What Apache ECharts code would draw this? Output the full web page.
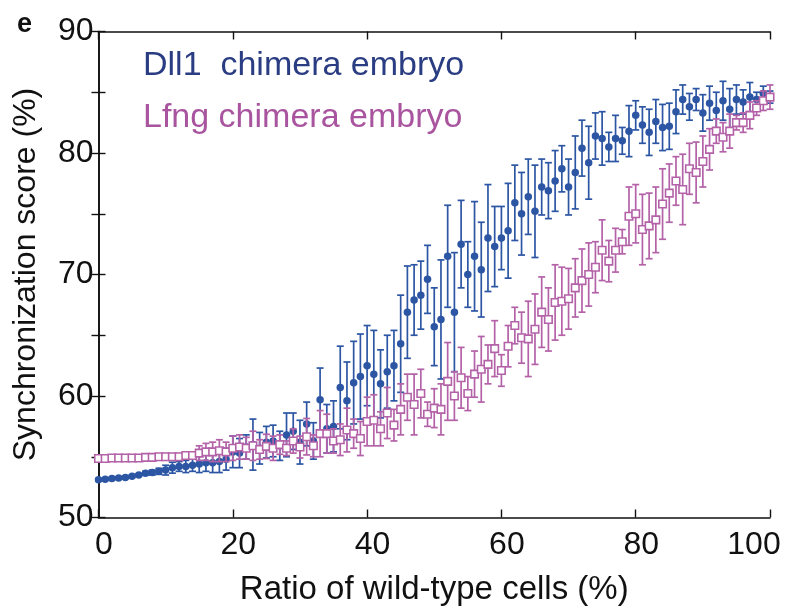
<!DOCTYPE html>
<html>
<head>
<meta charset="utf-8">
<script src="https://cdn.jsdelivr.net/npm/echarts@6/dist/echarts.min.js"></script>
<style>
  html, body { margin: 0; background: #fff; }
  #chart { width: 786px; height: 614px; }
</style>
</head>
<body>
<div id="chart"></div>
<script>
// ratio of wild-type cells (%)
const ratio = [0,1,2,3,4,5,6,7,8,9,10,11,12,13,14,15,16,17,18,19,20,
  21,22,23,24,25,26,27,28,29,30,31,32,33,34,35,36,37,38,39,40,
  41,42,43,44,45,46,47,48,49,50,51,52,53,54,55,56,57,58,59,60,
  61,62,63,64,65,66,67,68,69,70,71,72,73,74,75,76,77,78,79,80,
  81,82,83,84,85,86,87,88,89,90,91,92,93,94,95,96,97,98,99,100];

// Dll1 chimera embryo: mean and error
const dll1Mean = [53.1,53.15,53.2,53.25,53.3,53.4,53.5,53.65,53.7,53.8,53.9,54.1,54.2,54.2,54.3,54.4,54.5,54.5,54.6,54.8,55.4,
  55.3,55.8,56.0,55.7,56.2,56.3,55.9,56.8,57.1,56.2,57.7,56.3,59.7,57.3,57.5,60.7,59.6,61.1,61.6,62.5,
  61.8,61.0,62.0,62.5,64.3,66.9,67.9,68.3,69.6,65.7,66.3,71.5,66.9,72.5,70.0,71.5,70.4,73.0,72.3,73.0,
  73.6,75.9,75.0,76.4,75.2,77.2,76.9,77.7,78.7,77.2,78.4,80.4,79.2,81.4,81.2,80.5,81.2,81.0,81.8,83.1,
  82.3,81.7,82.6,82.1,82.2,83.4,84.4,83.8,84.4,83.3,84.1,83.5,84.3,83.6,84.4,84.2,84.6,84.4,84.9,84.6];
const dll1Err = [0.1,0.1,0.1,0.1,0.1,0.1,0.1,0.15,0.2,0.25,0.4,0.45,0.4,0.5,0.5,0.7,0.7,0.8,0.9,0.9,1.3,
  1.2,1.0,2.1,1.3,1.3,1.3,1.2,1.8,1.5,1.8,1.8,1.5,2.6,2.0,2.1,3.4,3.2,3.4,3.5,3.3,
  3.6,2.8,3.0,2.9,4.0,3.8,2.9,2.8,2.8,3.2,4.9,4.2,4.9,3.6,2.7,4.5,3.9,4.4,3.3,2.6,
  3.9,3.1,3.4,3.1,3.8,2.3,2.3,2.5,1.9,2.3,3.0,2.3,3.0,1.9,2.2,1.2,1.9,1.1,2.1,1.2,
  1.5,1.9,1.8,1.9,1.9,1.8,1.2,1.1,0.9,1.5,1.4,1.5,1.6,1.7,1.2,1.0,1.2,0.6,0.6,0.5];

// Lfng chimera embryo: mean and error
const lfngMean = [54.85,54.85,54.9,54.9,54.9,54.9,54.9,54.95,54.95,55.0,55.0,55.0,55.0,55.1,55.1,55.3,55.4,55.4,55.5,55.4,55.7,
  55.8,55.7,55.9,55.6,55.85,55.7,56.0,55.7,56.3,55.8,56.65,55.9,56.9,56.9,56.3,56.4,57.2,56.9,56.5,57.9,
  58.0,57.3,58.6,57.6,58.9,59.9,59.3,60.2,58.5,59.0,58.9,61.2,60.0,61.5,60.2,61.8,62.2,62.6,63.9,62.1,
  64.1,65.8,64.8,64.7,65.5,66.9,66.3,67.7,67.8,68.0,68.9,69.5,70.0,70.6,72.0,71.1,72.0,72.7,74.8,75.0,
  73.7,74.0,74.5,75.8,76.7,77.7,77.0,78.7,78.4,79.3,80.3,81.8,81.3,81.8,82.5,82.5,83.1,83.7,84.3,84.6];
const lfngErr = [0.1,0.1,0.1,0.1,0.1,0.1,0.1,0.1,0.1,0.1,0.15,0.2,0.25,0.3,0.3,0.6,0.7,0.8,0.9,0.8,1.0,
  1.0,0.9,1.2,0.8,1.0,1.0,0.8,0.6,1.0,0.9,1.5,0.9,1.9,1.6,1.0,1.3,1.8,1.2,1.4,2.0,
  2.1,1.4,2.1,1.3,2.1,1.9,2.5,2.0,1.0,1.6,2.1,3.2,2.0,2.5,1.4,1.9,2.7,1.6,2.3,1.3,
  1.7,1.5,2.1,3.1,2.9,2.9,2.6,3.1,2.8,2.5,2.4,2.6,2.6,2.1,2.5,1.7,1.8,1.0,2.4,2.4,
  2.9,2.7,2.7,2.9,2.4,2.0,2.9,2.1,2.5,2.1,1.7,1.0,1.2,1.4,0.6,0.8,1.1,0.6,0.8,1.0];

const yTicks = [50, 60, 70, 80, 90];

const blue = '#2c56a4';
const pink = '#b462a8';
const font = 'Liberation Sans, Arial, sans-serif';

function barData(mean, err) {
  return ratio.map((x, i) => [x, mean[i] - err[i], mean[i] + err[i]]);
}
function pointData(mean) {
  return ratio.map((x, i) => [x, mean[i]]);
}

// vertical error bar with caps
function errorBar(color) {
  return function (params, api) {
    const hi = api.coord([api.value(0), api.value(2)]);
    const lo = api.coord([api.value(0), api.value(1)]);
    const w = 3.5;
    const style = { stroke: color, lineWidth: 1.7 };
    return {
      type: 'group',
      children: [
        { type: 'line', shape: { x1: hi[0], y1: hi[1], x2: lo[0], y2: lo[1] }, style: style },
        { type: 'line', shape: { x1: hi[0] - w, y1: hi[1], x2: hi[0] + w, y2: hi[1] }, style: style },
        { type: 'line', shape: { x1: lo[0] - w, y1: lo[1], x2: lo[0] + w, y2: lo[1] }, style: style }
      ]
    };
  };
}

const axisLine = { show: true, lineStyle: { color: '#111', width: 1.6 } };

const chart = echarts.init(document.getElementById('chart'));
chart.setOption({
  animation: false,
  backgroundColor: '#fff',
  grid: { left: 98.5, right: 16, top: 31.5, bottom: 96.5, containLabel: false, outerBoundsMode: 'none' },
  xAxis: [{
    type: 'value', min: 0, max: 100, interval: 20, position: 'bottom',
    name: 'Ratio of wild-type cells (%)', nameLocation: 'middle', nameGap: 56,
    nameTextStyle: { fontFamily: font, fontSize: 33, color: '#111' },
    axisLine: axisLine,
    axisTick: { inside: true, length: 8, lineStyle: { color: '#111', width: 1.4 } },
    axisLabel: {
      fontFamily: font, fontSize: 32, color: '#111', margin: 12,
      padding: [0, 0, 0, 11],
      // the last label is pulled in so it stays on the page
      formatter: v => (v === 100 ? '{last|100}' : String(v)),
      rich: { last: { fontFamily: font, fontSize: 32, color: '#111', padding: [0, 43, 0, 0] } }
    },
    splitLine: { show: false }
  }, {
    type: 'value', min: 0, max: 100, interval: 20, position: 'top',
    axisLine: axisLine,
    axisTick: { inside: true, length: 8, lineStyle: { color: '#111', width: 1.4 } },
    axisLabel: { show: false },
    splitLine: { show: false }
  }],
  yAxis: [{
    type: 'value', min: 50, max: 90, interval: 5, position: 'left',
    name: 'Synchronization score (%)', nameLocation: 'middle', nameGap: 56,
    nameTextStyle: { fontFamily: font, fontSize: 32, color: '#111' },
    axisLine: axisLine,
    axisTick: { inside: true, length: 7, lineStyle: { color: '#111', width: 1.4 } },
    axisLabel: {
      fontFamily: font, fontSize: 32, color: '#111', margin: 5,
      formatter: v => (yTicks.indexOf(v) >= 0 ? String(v) : '')
    },
    splitLine: { show: false }
  }, {
    type: 'value', min: 50, max: 90, interval: 5, position: 'right',
    axisLine: axisLine,
    axisTick: { inside: true, length: 7, lineStyle: { color: '#111', width: 1.4 } },
    axisLabel: { show: false },
    splitLine: { show: false }
  }],
  graphic: [
    { type: 'text', left: 17, top: 11, style: { text: 'e', font: 'bold 27px ' + font, fill: '#111' } },
    { type: 'text', left: 143, top: 49, style: { text: 'Dll1  chimera embryo', font: '34px ' + font, fill: '#2a3d82' } },
    { type: 'text', left: 143, top: 101, style: { text: 'Lfng chimera embryo', font: '34px ' + font, fill: '#a9549e' } }
  ],
  series: [{
    name: 'Dll1 error', type: 'custom', z: 2,
    renderItem: errorBar(blue), encode: { x: 0, y: [1, 2] },
    data: barData(dll1Mean, dll1Err)
  }, {
    name: 'Dll1 chimera embryo', type: 'scatter', z: 3,
    symbol: 'circle', symbolSize: 7.5,
    itemStyle: { color: blue, opacity: 1 },
    data: pointData(dll1Mean)
  }, {
    name: 'Lfng error', type: 'custom', z: 4,
    renderItem: errorBar(pink), encode: { x: 0, y: [1, 2] },
    data: barData(lfngMean, lfngErr)
  }, {
    name: 'Lfng chimera embryo', type: 'scatter', z: 5,
    symbol: 'rect', symbolSize: 7.5,
    itemStyle: { color: '#fff', borderColor: pink, borderWidth: 1.6, opacity: 1 },
    data: pointData(lfngMean)
  }]
});
</script>
</body>
</html>
